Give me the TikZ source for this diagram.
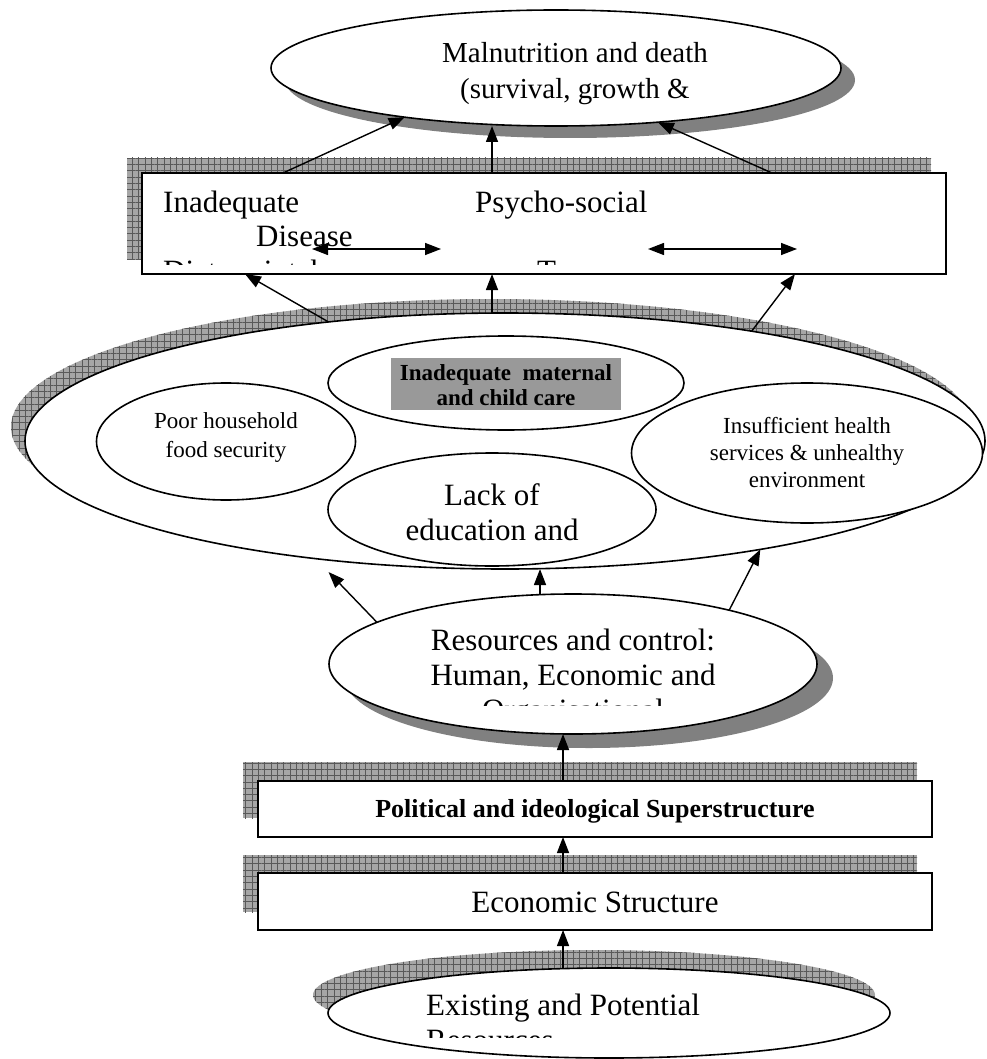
\documentclass[tikz,border=0pt]{standalone}
\usepackage{fontspec}
\setmainfont{Liberation Serif}
\usetikzlibrary{shapes.geometric,arrows.meta,backgrounds,patterns.meta}

\tikzset{
  hatch/.style={fill=black!35,
    postaction={pattern={Lines[distance=6.3pt,angle=0,line width=.5pt]},pattern color=black!65},
    postaction={pattern={Lines[distance=6.3pt,angle=90,line width=.5pt]},pattern color=black!65}},
  solidshade/.style={fill=black!50},
  oval/.style={ellipse,draw,line width=1.6pt,fill=white,inner sep=0pt,outer sep=0pt},
  panel/.style={rectangle,draw,line width=1.6pt,fill=white,inner sep=0pt,outer sep=0pt},
  arr/.style={line width=1.4pt,-{Triangle[length=16pt,width=12pt]}},
  darr/.style={line width=1.4pt,{Triangle[length=16pt,width=12pt]}-{Triangle[length=16pt,width=12pt]}},
  txtL/.style={inner sep=0pt,font=\fontsize{31}{35}\selectfont},
  txtM/.style={inner sep=0pt,font=\fontsize{29}{34}\selectfont},
  txtS/.style={inner sep=0pt,font=\fontsize{23}{27}\selectfont},
  txtB/.style={inner sep=0pt,font=\fontsize{23}{27}\selectfont\bfseries},
  txtP/.style={inner sep=0pt,font=\fontsize{26}{30}\selectfont\bfseries}
}

\begin{document}
\begin{tikzpicture}[x=1pt,y=-1pt]
\useasboundingbox (0,0) rectangle (986,1059);

% shapes
\node[oval,minimum width=570pt,minimum height=116pt] (outcome) at (556,68) {};
\node[panel,minimum width=804pt,minimum height=101pt] (factors) at (544,223.5) {};
\node[oval,minimum width=960pt,minimum height=256pt] (causes) at (505,441) {};
\node[oval,minimum width=356pt,minimum height=94pt] (care) at (506,383) {};
\node[oval,minimum width=259pt,minimum height=117pt] (food) at (226,441.5) {};
\node[oval,minimum width=351pt,minimum height=140pt] (health) at (807,453) {};
\node[oval,minimum width=328pt,minimum height=113pt] (educ) at (492,509.5) {};
\node[oval,minimum width=488pt,minimum height=140pt] (resources) at (573,664) {};
\node[panel,minimum width=674pt,minimum height=56pt] (polit) at (595,809) {};
\node[panel,minimum width=674pt,minimum height=57pt] (econ) at (595,901.5) {};
\node[oval,minimum width=562pt,minimum height=90pt] (existing) at (609,1013) {};
\node[fill=black!40,inner sep=0pt,minimum width=230pt,minimum height=52pt] (carebox) at (506,384) {};

% shadows
\begin{scope}[on background layer]
  \fill[solidshade] ([shift={(14pt,-12pt)}]outcome.center) ellipse [x radius=285pt,y radius=58pt];
  \fill[hatch] ([shift={(-15pt,15pt)}]factors.south west) rectangle ([shift={(-15pt,15pt)}]factors.north east);
  \fill[hatch] ([shift={(-14pt,14pt)}]causes.center) ellipse [x radius=480pt,y radius=128pt];
  \fill[solidshade] ([shift={(16pt,-14pt)}]resources.center) ellipse [x radius=244pt,y radius=70pt];
  \fill[hatch] ([shift={(-15pt,19pt)}]polit.south west) rectangle ([shift={(-15pt,19pt)}]polit.north east);
  \fill[hatch] ([shift={(-15pt,18pt)}]econ.south west) rectangle ([shift={(-15pt,18pt)}]econ.north east);
  \fill[hatch] ([shift={(-15pt,18pt)}]existing.center) ellipse [x radius=281pt,y radius=45pt];
\end{scope}

% texts
\node[txtM,anchor=base] (out1) at (575,63) {Malnutrition and death};
\node[txtM,anchor=base] (out2) at (575,99) {(survival, growth \&};

\node[txtL,anchor=base west] (fac1) at (163,213) {Inadequate};
\node[txtL,anchor=base west] (fac2) at (256,247) {Disease};
\node[txtL,anchor=base west] (fac3) at (475,213) {Psycho-social};
\begin{scope}
  \clip (142,173) rectangle (946,264);
  \node[txtL,anchor=base west] (fac4) at (163,281) {Dietary intake};
  \node[txtL,anchor=base west] (fac5) at (537,281) {Trauma};
\end{scope}

\node[txtB,anchor=base] (care1) at (506,380) {Inadequate\ \ maternal};
\node[txtB,anchor=base] (care2) at (506,405) {and child care};
\node[txtS,anchor=base] (food1) at (226,428) {Poor household};
\node[txtS,anchor=base] (food2) at (226,457) {food security};
\node[txtS,anchor=base] (hlth1) at (807,433) {Insufficient health};
\node[txtS,anchor=base] (hlth2) at (807,460) {services \& unhealthy};
\node[txtS,anchor=base] (hlth3) at (807,487) {environment};
\node[txtL,anchor=base] (educ1) at (492,505) {Lack of};
\node[txtL,anchor=base] (educ2) at (492,540) {education and};

\node[txtL,anchor=base] (res1) at (573,650) {Resources and control:};
\node[txtL,anchor=base] (res2) at (573,685) {Human, Economic and};
\begin{scope}
  \clip (329,594) rectangle (817,705);
  \node[txtL,anchor=base] (res3) at (573,720) {Organisational};
\end{scope}

\node[txtP,anchor=base] (pol1) at (595,817) {Political and ideological Superstructure};
\node[txtL,anchor=base] (eco1) at (595,912) {Economic Structure};
\node[txtL,anchor=base west] (ex1) at (426,1015) {Existing and Potential};
\begin{scope}
  \clip (328,968) rectangle (890,1037);
  \node[txtL,anchor=base west] (ex2) at (426,1050) {Resources};
\end{scope}

% arrows
\draw[arr] ([xshift=-261pt]factors.north) -- (outcome.198.7);
\draw[arr] ([xshift=-52pt]factors.north) -- ([xshift=-52pt]factors.north |- outcome.south);
\draw[arr] ([xshift=228pt]factors.north) -- (outcome.332.3);

\coordinate (d1) at (312,249);
\coordinate (d2) at (441,249);
\coordinate (d3) at (648,249);
\coordinate (d4) at (797,249);
\draw[darr] (d1) -- (d2);
\draw[darr] (d3) -- (d4);

\draw[arr] (causes.146.8) -- ([xshift=-299pt]factors.south);
\draw[arr] ([xshift=-52pt]factors.south |- causes.north) -- ([xshift=-52pt]factors.south);
\draw[arr] (causes.24.4) -- ([xshift=251pt]factors.south);

\draw[arr] (resources.168.3) -- ([yshift=-12pt]causes.214.8);
\draw[arr] ([xshift=-33pt]resources.north) -- ([xshift=-33pt]resources.north |- causes.south);
\draw[arr] (resources.19.4) -- (causes.337.1);

\draw[arr] ([xshift=-32pt]polit.north) -- ([xshift=-32pt]polit.north |- resources.south);
\draw[arr] ([xshift=-32pt]econ.north) -- ([xshift=-32pt]polit.south);
\draw[arr] (existing.136) -- (existing.136 |- econ.south);
\end{tikzpicture}
\end{document}
